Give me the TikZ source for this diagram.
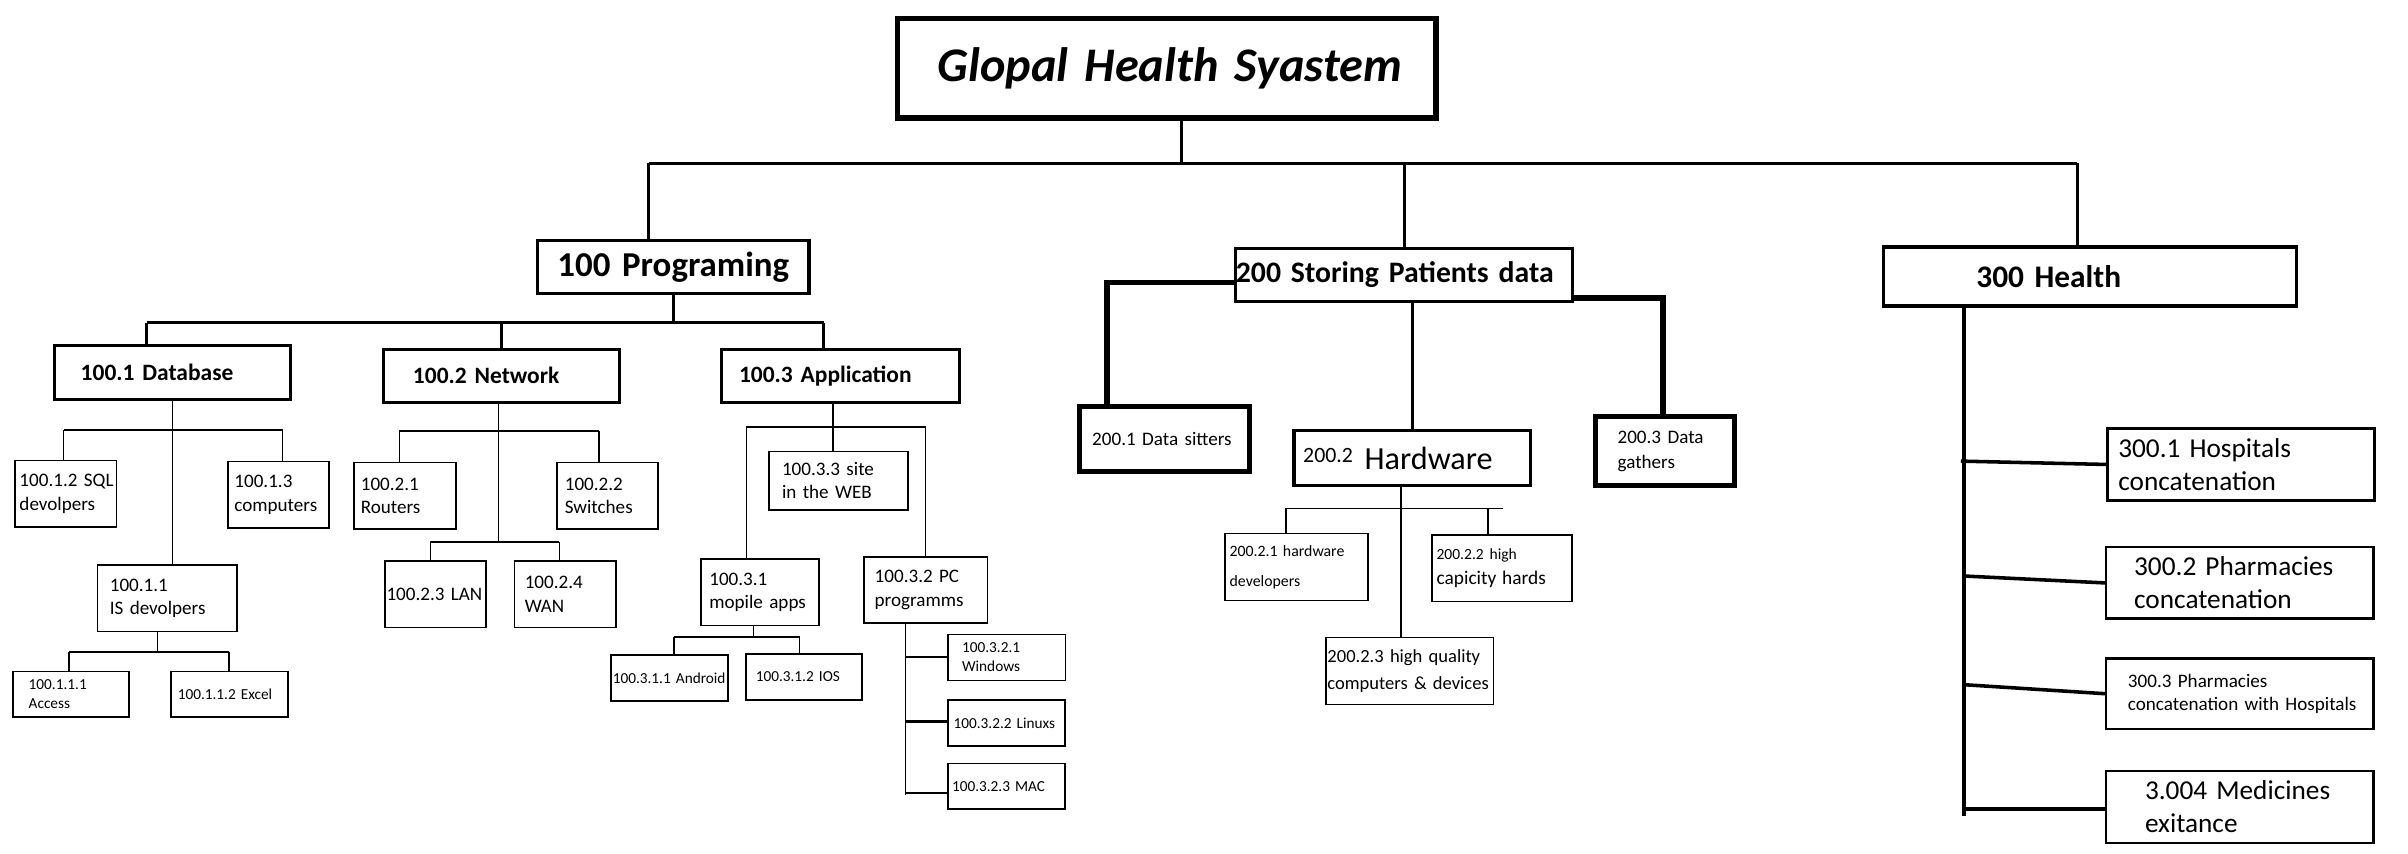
\documentclass[tikz,border=0pt]{standalone}
\usepackage{fontspec}
\setmainfont{Carlito}
\usepackage{tikz}
\hyphenpenalty=10000
\exhyphenpenalty=10000

\tikzset{
  bx/.style n args={3}{draw, minimum width=#1*0.2mm, minimum height=#2*0.2mm,
    inner xsep=#3*0.2mm, inner ysep=0pt, text width=(#1-2*#3)*0.2mm, align=left},
  ttl/.style={line width=2pt, font=\fontsize{17.7}{21}\selectfont\bfseries\itshape},
  big/.style={line width=1.2pt, font=\fontsize{12.8}{15}\selectfont\bfseries},
  mid/.style={line width=1.1pt, font=\fontsize{8.6}{10}\selectfont\bfseries},
  leaf/.style={line width=0.6pt, font=\fontsize{7}{8.6}\selectfont},
  tiny/.style={line width=0.6pt, font=\fontsize{5.6}{7}\selectfont},
  fat/.style={line width=1.8pt, font=\fontsize{7}{9.2}\selectfont},
  hp/.style={line width=0.9pt, font=\fontsize{10}{12}\selectfont},
  wire/.style={line width=0.6pt},
  bus/.style={line width=1.1pt},
  heavy/.style={line width=2pt},
  spine/.style={line width=1.3pt}
}

\begin{document}
\begin{tikzpicture}[x=0.2mm, y=-0.2mm]
    \useasboundingbox (0,0) rectangle (1551,550);

    \node [bx={347}{64}{26}, ttl] (g) at (751.5,44) {Glopal~Health~Syastem};
    \node [bx={175}{34}{13}, big] (n100) at (433.5,172) {100~Programing};
    \node [bx={217}{34}{0}, big, font=\fontsize{10.9}{13}\selectfont\bfseries] (n200) at (904.5,177) {200~Storing~Patients~data};
    \node [bx={266}{38}{60}, big, font=\fontsize{11.5}{14}\selectfont\bfseries] (n300) at (1346,178) {300~Health};

    \node [bx={152}{34.5}{17}, mid] (n1001) at (111,239.75) {100.1~Database};
    \node [bx={152}{34}{19}, mid] (n1002) at (323,242) {100.2~Network};
    \node [bx={153}{34}{11}, mid] (n1003) at (541.5,242) {100.3~Application};

    \node [bx={65.5}{42.8}{3}, leaf] (n10012) at (42.3,318.1) {100.1.2~SQL\\devolpers};
    \node [bx={65}{43}{4}, leaf] (n10013) at (179.5,318.75) {100.1.3\\computers};
    \node [bx={90}{42.8}{8}, leaf] (n10011) at (107.75,385.3) {100.1.1\\IS~devolpers};
    \node [bx={74.5}{29.6}{10}, tiny] (n100111) at (45.75,447.2) {100.1.1.1\\Access};
    \node [bx={75.6}{29.6}{4.5}, tiny] (n100112) at (147.8,447.2) {100.1.1.2~Excel};

    \node [bx={65.6}{42.8}{4.4}, leaf] (n10021) at (260.8,319.4) {100.2.1\\Routers};
    \node [bx={65.2}{42.8}{5}, leaf] (n10022) at (391.4,319.4) {100.2.2\\Switches};
    \node [bx={65.1}{42.8}{1}, leaf] (n10023) at (280.5,382.7) {100.2.3~LAN};
    \node [bx={65.2}{42.8}{6.5}, leaf] (n10024) at (364.1,382.7) {100.2.4\\WAN};

    \node [bx={89.6}{37.5}{8.5}, leaf] (n10033) at (540,309.55) {100.3.3~site\\in~the~WEB};
    \node [bx={76.2}{42.9}{5.5}, leaf] (n10031) at (489.5,381.35) {100.3.1\\mopile~apps};
    \node [bx={79.6}{42.8}{7}, leaf] (n10032) at (596.2,380) {100.3.2~PC\\programms};
    \node [bx={75.1}{29.6}{1}, tiny] (n100311) at (431.25,436.7) {100.3.1.1~Android};
    \node [bx={75.1}{29.6}{6.5}, tiny] (n100312) at (517.85,436) {100.3.1.2~IOS};
    \node [bx={75.6}{29.6}{9}, tiny] (n100321) at (648.5,423.5) {100.3.2.1\\Windows};
    \node [bx={75.1}{29.7}{3.5}, tiny] (n100322) at (648.25,465.65) {100.3.2.2~Linuxs};
    \node [bx={75.1}{29.4}{2.5}, tiny] (n100323) at (648.25,506.4) {100.3.2.3~MAC};

    \node [bx={109.4}{41.5}{8}, fat] (n2001) at (750.2,282.75) {200.1~Data~sitters};
    \node [bx={152.2}{35.4}{6}, line width=1.2pt, font=\fontsize{11.8}{13}\selectfont] (n2002) at (909.5,295.2) {\raisebox{0.9mm}{\fontsize{8}{9}\selectfont 200.2}\hspace{1.5mm}Hardware};
    \node [bx={90}{44.8}{14.5}, fat] (n2003) at (1072.4,290.5) {200.3~Data\\gathers};
    \node [bx={92.3}{43.1}{3}, leaf, font=\fontsize{5.8}{11}\selectfont] (n20021) at (835.15,365.15) {200.2.1~hardware\\developers};
    \node [bx={90.3}{42.8}{3}, leaf, font=\fontsize{6.4}{9.4}\selectfont] (n20022) at (967.45,366) {{\fontsize{5.7}{9}\selectfont 200.2.2~high}\\{\fontsize{7.1}{9}\selectfont capicity~hards}};
    \node [bx={108}{43.1}{1}, leaf, font=\fontsize{6.8}{9.9}\selectfont] (n20023) at (908,432.25) {200.2.3~high~quality\\computers~\&~devices};

    \node [bx={172}{46.3}{7}, hp] (n3001) at (1443.4,299.15) {300.1~Hospitals\\concatenation};
    \node [bx={172.3}{46.1}{18}, hp] (n3002) at (1442.75,375.45) {300.2~Pharmacies\\concatenation};
    \node [bx={172.3}{45.6}{14}, hp, font=\fontsize{7}{8.4}\selectfont] (n3003) at (1442.75,446.8) {300.3~Pharmacies\\concatenation~with~Hospitals};
    \node [bx={172.3}{46.1}{25}, hp] (n3004) at (1442.75,519.75) {3.004~Medicines\\exitance};

    \coordinate (b0) at (761,105);
    \coordinate (b1) at (418,105);
    \coordinate (b3) at (1338,105);
    \draw [bus] (g.south -| b0) -- (b0);
    \draw [bus] (b1) -- (b3);
    \draw [bus] (b1) -- (b1 |- n100.north);
    \draw [bus] (n200.north |- b1) -- (n200.north);
    \draw [bus] (b3) -- (b3 |- n300.north);

    \coordinate (c1) at (94.6,208);
    \coordinate (c3) at (530.5,208);
    \draw [bus] (n100.south) -- (n100.south |- c1);
    \draw [bus] (c1) -- (c3);
    \draw [bus] (c1) -- (c1 |- n1001.north);
    \draw [bus] (n1002.north |- c1) -- (n1002.north);
    \draw [bus] (c3) -- (c3 |- n1003.north);

    \coordinate (d1) at (41,277);
    \coordinate (d3) at (182,277);
    \draw [wire] (n1001.south) -- (n1001.south |- n10011.north);
    \draw [wire] (d1) -- (d3);
    \draw [wire] (d1) -- (d1 |- n10012.north);
    \draw [wire] (d3) -- (d3 |- n10013.north);
    \coordinate (e0) at (101.5,420);
    \coordinate (e1) at (44.3,420);
    \coordinate (e3) at (147.3,420);
    \draw [wire] (n10011.south -| e0) -- (e0);
    \draw [wire] (e1) -- (e3);
    \draw [wire] (e1) -- (e1 |- n100111.north);
    \draw [wire] (e3) -- (e3 |- n100112.north);

    \coordinate (f0) at (321,349);
    \coordinate (f1) at (257.3,277.6);
    \coordinate (f3) at (385.7,277.6);
    \draw [wire] (n1002.south -| f0) -- (f0);
    \draw [wire] (f1) -- (f3);
    \draw [wire] (f1) -- (f1 |- n10021.north);
    \draw [wire] (f3) -- (f3 |- n10022.north);
    \coordinate (k1) at (277.2,349);
    \coordinate (k3) at (360.3,349);
    \draw [wire] (k1) -- (k3);
    \draw [wire] (k1) -- (k1 |- n10023.north);
    \draw [wire] (k3) -- (k3 |- n10024.north);

    \coordinate (m0) at (536.5,275);
    \coordinate (m1) at (480.8,275);
    \coordinate (m3) at (596.2,275);
    \draw [wire] (n1003.south -| m0) -- (m0 |- n10033.north);
    \draw [wire] (m1) -- (m3);
    \draw [wire] (m1) -- (m1 |- n10031.north);
    \draw [wire] (m3) -- (m3 |- n10032.north);
    \coordinate (r0) at (485.3,410.2);
    \coordinate (r1) at (434,410.2);
    \coordinate (r3) at (515,410.2);
    \draw [wire] (n10031.south -| r0) -- (r0);
    \draw [wire] (r1) -- (r3);
    \draw [wire] (r1) -- (r1 |- n100311.north);
    \draw [wire] (r3) -- (r3 |- n100312.north);
    \coordinate (s0) at (583.3,512.3);
    \coordinate (s1) at (583.3,423);
    \coordinate (s2) at (583.3,464.7);
    \coordinate (s3) at (583.3,510.8);
    \draw [wire] (n10032.south -| s0) -- (s0);
    \draw [line width=0.9pt] (s1) -- (s1 -| n100321.west);
    \draw [line width=0.9pt] (s2) -- (s2 -| n100322.west);
    \draw [line width=0.9pt] (s3) -- (s3 -| n100323.west);

    \coordinate (u1) at (713,182);
    \coordinate (u3) at (1071,192);
    \draw [heavy] (n200.west |- u1) -- (u1) -- (u1 |- n2001.north);
    \draw [heavy] (n200.east |- u3) -- (u3) -- (u3 |- n2003.north);
    \draw [bus] (n200.south -| n2002.north) -- (n2002.north);
    \coordinate (v0) at (902.5,327.5);
    \coordinate (v1) at (828.5,327.5);
    \coordinate (v3) at (967.9,327.5);
    \coordinate (v2) at (958.6,327.5);
    \draw [wire] (n2002.south -| v0) -- (v0 |- n20023.north);
    \draw [wire] (v1) -- (v3);
    \draw [wire] (v1) -- (v1 |- n20021.north);
    \draw [wire] (v2) -- (v2 |- n20022.north);

    \coordinate (w1) at (1263,297);
    \coordinate (w2) at (1265,371);
    \coordinate (w3) at (1265,441);
    \coordinate (w4) at (1265,520.9);
    \coordinate (w5) at (1265,525.7);
    \draw [spine] (n300.south -| w5) -- (w5);
    \draw [spine] (w1) -- (n3001.west);
    \draw [spine] (w2) -- (n3002.west);
    \draw [spine] (w3) -- (n3003.west);
    \draw [spine] (w4) -- (w4 -| n3004.west);
\end{tikzpicture}
\end{document}
